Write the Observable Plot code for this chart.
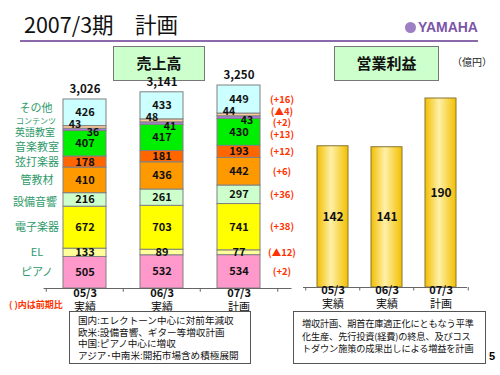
<!DOCTYPE html>
<html><head><meta charset="utf-8">
<script src="https://cdn.jsdelivr.net/npm/d3@7"></script>
<script src="https://cdn.jsdelivr.net/npm/@observablehq/plot@0.6"></script>
<style>
body{margin:0;background:#fff;font-family:"Noto Sans CJK JP",sans-serif;}
#page{position:relative;width:500px;height:375px;overflow:hidden;background:#fff;}
.abs{position:absolute;}
#title{left:24px;top:10px;font-size:21.5px;line-height:28px;color:#111;white-space:pre;}
#hline{left:20px;top:40px;width:458px;height:2px;background:#8a6aac;}
#logo{left:405px;top:18px;font-size:15.5px;font-weight:bold;color:#7b55a8;line-height:17px;font-family:"Liberation Sans",sans-serif;white-space:nowrap;}
#logo span.em{display:inline-block;width:11px;height:11px;border-radius:50%;background:#9d7fc4;vertical-align:-1px;margin-right:2px;}
#logo span.tx{display:inline-block;transform:scaleX(0.9);transform-origin:left center;}
.gbox{background:#ccffcc;border:1px solid #777;font-weight:bold;font-size:15px;text-align:center;line-height:32px;color:#111;}
#unit{left:452px;top:54px;font-size:10px;color:#222;}
#note{left:9px;top:298px;font-size:9px;font-weight:bold;color:#ff3300;}
.tbox{border:1px solid #555;background:#fff;color:#111;z-index:2;white-space:nowrap;overflow:hidden;}
#pg{left:489px;top:350px;font-size:11px;font-weight:bold;font-family:"Liberation Sans",sans-serif;}
</style></head>
<body>
<svg width="0" height="0" style="position:absolute">
  <defs>
    <linearGradient id="gold" x1="0" x2="1" y1="0" y2="0">
      <stop offset="0" stop-color="#f2be00"/>
      <stop offset="0.45" stop-color="#fff0a8"/>
      <stop offset="1" stop-color="#f2c000"/>
    </linearGradient>
  </defs>
</svg>
<div id="page">
  <div id="title" class="abs">2007/3期　計画</div>
  <div id="logo" class="abs"><span class="em"></span><span class="tx">YAMAHA</span></div>
  <div id="hline" class="abs"></div>
  <div class="abs gbox" style="left:113px;top:46px;width:90px;height:33px;">売上高</div>
  <div class="abs gbox" style="left:334px;top:46px;width:103px;height:33px;">営業利益</div>
  <div id="unit" class="abs">（億円）</div>
  <div id="left" class="abs" style="left:0;top:70px;"></div>
  <div id="right" class="abs" style="left:300px;top:70px;"></div>
  <div id="note" class="abs">( )内は前期比</div>
  <div class="abs tbox" style="left:69px;top:311px;width:180px;height:51px;">
    <div style="padding:3px 0 0 8px;line-height:11.5px;font-size:9.6px;">国内:エレクトーン中心に対前年減収<br>欧米:設備音響、ギター等増収計画<br>中国:ピアノ中心に増収<br>アジア･中南米:開拓市場含め積極展開</div>
  </div>
  <div class="abs tbox" style="left:293px;top:311px;width:191px;height:51px;">
    <div style="padding:5px 0 0 8px;line-height:12.5px;font-size:9.2px;letter-spacing:-0.15px;">増収計画、期首在庫適正化にともなう平準<br>化生産、先行投資(経費)の終息、及びコス<br>トダウン施策の成果出しによる増益を計画</div>
  </div>
  <div id="pg" class="abs">5</div>
</div>
<script>
const categories = ["05/3", "06/3", "07/3"];
const periodLabels = ["実績", "実績", "計画"];
const segments = ["ピアノ", "EL", "電子楽器", "設備音響", "管教材", "弦打楽器", "音楽教室", "英語教室", "コンテンツ", "その他"];
const sales05 = [505, 133, 672, 216, 410, 178, 407, 36, 43, 426];
const sales06 = [532, 89, 703, 261, 436, 181, 417, 41, 48, 433];
const sales07 = [534, 77, 741, 297, 442, 193, 430, 43, 44, 449];
const salesTotals = ["3,026", "3,141", "3,250"];
const changes07 = ["(+2)", "(▲12)", "(+38)", "(+36)", "(+6)", "(+12)", "(+13)", "(+2)", "(▲4)", "(+16)"];
const segColors = ["#ff99cc", "#ffff99", "#ffff00", "#ccffcc", "#ff9900", "#ff6600", "#00ee00", "#a57fd6", "#ffcc99", "#ccffff"];
const profit = [142, 141, 190];

const series = [sales05, sales06, sales07];
const rows = [];
categories.forEach((c, i) => {
  let acc = 0;
  segments.forEach((s, j) => {
    const v = series[i][j];
    rows.push({cat: c, seg: s, value: v, y1: acc, y2: acc + v, mid: acc + v / 2, change: changes07[j]});
    acc += v;
  });
});
const totalsRows = categories.map((c, i) => ({cat: c, total: d3.sum(series[i]), label: salesTotals[i]}));
const first = rows.filter(d => d.cat === categories[0]);
const last = rows.filter(d => d.cat === categories[2]);
const periodRows = categories.map((c, i) => ({cat: c, period: periodLabels[i]}));
const font = '"Noto Sans CJK JP", sans-serif';
const green = "#2f9a6a", red = "#ff3300";
const is = (...names) => d => names.includes(d.seg);
const not = (...names) => d => !names.includes(d.seg);

const left = Plot.plot({
  width: 300, height: 250,
  marginTop: 15, marginBottom: 32, marginLeft: 27.5, marginRight: 5.5,
  style: {fontFamily: font, fontSize: "11px", background: "transparent", overflow: "visible"},
  x: {domain: categories, padding: 0.445, axis: null},
  y: {domain: [0, 3250], axis: null},
  color: {domain: segments, range: segColors},
  marks: [
    Plot.rectY(rows, {x: "cat", y1: "y1", y2: "y2", fill: "seg", stroke: "#808080", strokeWidth: 1}),
    Plot.ruleY([0], {stroke: "#666", insetLeft: 16, insetRight: 3}),
    Plot.ruleX(categories, {x: d => d, y1: 0, y2: -60, dx: -38.75, stroke: "#666"}),
    Plot.ruleX(categories.slice(-1), {x: d => d, y1: 0, y2: -60, dx: 38.75, stroke: "#666"}),
    Plot.text(rows.filter(not("英語教室", "コンテンツ")), {x: "cat", y: "mid", text: d => String(d.value), fontWeight: "bold", fontSize: 11, fill: "#111"}),
    Plot.text(rows.filter(is("コンテンツ")), {x: "cat", y: "mid", text: d => String(d.value), fontWeight: "bold", fontSize: 10.5, dx: -10, dy: -3, fill: "#111"}),
    Plot.text(rows.filter(is("英語教室")), {x: "cat", y: "mid", text: d => String(d.value), fontWeight: "bold", fontSize: 10.5, dx: 8, dy: 3, fill: "#111"}),
    Plot.text(totalsRows, {x: "cat", y: "total", text: "label", fontWeight: "bold", fontSize: 11.5, dy: -10, fill: "#111"}),
    Plot.text(first.filter(not("英語教室", "コンテンツ", "その他", "音楽教室", "設備音響")), {x: "cat", y: "mid", text: "seg", dx: -48, fontSize: 11, fill: green}),
    Plot.text(first.filter(is("その他")), {x: "cat", y: "mid", text: "seg", dx: -49, dy: -4, fontSize: 11, fill: green}),
    Plot.text(first.filter(is("コンテンツ")), {x: "cat", y: "mid", text: "seg", dx: -49, dy: -6.5, fontSize: 8, fill: green}),
    Plot.text(first.filter(is("英語教室")), {x: "cat", y: "mid", text: "seg", dx: -50, dy: 3, fontSize: 10, fill: green}),
    Plot.text(first.filter(is("音楽教室")), {x: "cat", y: "mid", text: "seg", dx: -48, dy: 3.5, fontSize: 11, fill: green}),
    Plot.text(first.filter(is("設備音響")), {x: "cat", y: "mid", text: "seg", dx: -50, dy: 3, fontSize: 11, fill: green}),
    Plot.text(last.filter(not("英語教室", "コンテンツ", "音楽教室")), {x: "cat", y: "mid", text: "change", dx: 43, fontSize: 9.5, fontWeight: 600, fill: red}),
    Plot.text(last.filter(is("コンテンツ")), {x: "cat", y: "mid", text: "change", dx: 43, dy: -2.5, fontSize: 9.5, fontWeight: 600, fill: red}),
    Plot.text(last.filter(is("英語教室")), {x: "cat", y: "mid", text: "change", dx: 43, dy: 5.5, fontSize: 9.5, fontWeight: 600, fill: red}),
    Plot.text(last.filter(is("音楽教室")), {x: "cat", y: "mid", text: "change", dx: 43, dy: 2.5, fontSize: 9.5, fontWeight: 600, fill: red}),
    Plot.text(periodRows, {x: "cat", frameAnchor: "bottom", text: "cat", dy: 8, fontWeight: "bold", fontSize: 11, fill: "#111"}),
    Plot.text(periodRows, {x: "cat", frameAnchor: "bottom", text: "period", dy: 22, fontSize: 11, fill: "#111"})
  ]
});
document.getElementById("left").appendChild(left);

const profitRows = categories.map((c, i) => ({cat: c, value: profit[i], period: periodLabels[i]}));
const right = Plot.plot({
  width: 200, height: 250,
  marginTop: 28, marginBottom: 33, marginLeft: 5, marginRight: 33,
  style: {fontFamily: font, fontSize: "11px", background: "transparent", overflow: "visible"},
  x: {domain: categories, paddingInner: 0.431, paddingOuter: 0.2, axis: null},
  y: {domain: [0, 190], axis: null},
  marks: [
    Plot.barY(profitRows, {x: "cat", y: "value", fill: "url(#gold)", stroke: "#8a7530", strokeWidth: 1}),
    Plot.ruleY([0], {stroke: "#666", insetLeft: -2}),
    Plot.ruleX(categories, {x: d => d, y1: 0, y2: -3.5, dx: -27.25, stroke: "#666"}),
    Plot.ruleX(categories.slice(-1), {x: d => d, y1: 0, y2: -3.5, dx: 27.25, stroke: "#666"}),
    Plot.text(profitRows, {x: "cat", y: d => d.value / 2, text: d => String(d.value), fontWeight: "bold", fontSize: 12, fill: "#111"}),
    Plot.text(profitRows, {x: "cat", frameAnchor: "bottom", text: "cat", dy: 6, fontWeight: "bold", fontSize: 11, fill: "#111"}),
    Plot.text(profitRows, {x: "cat", frameAnchor: "bottom", text: "period", dy: 20, fontSize: 11, fill: "#111"})
  ]
});
document.getElementById("right").appendChild(right);
</script>
</body></html>
